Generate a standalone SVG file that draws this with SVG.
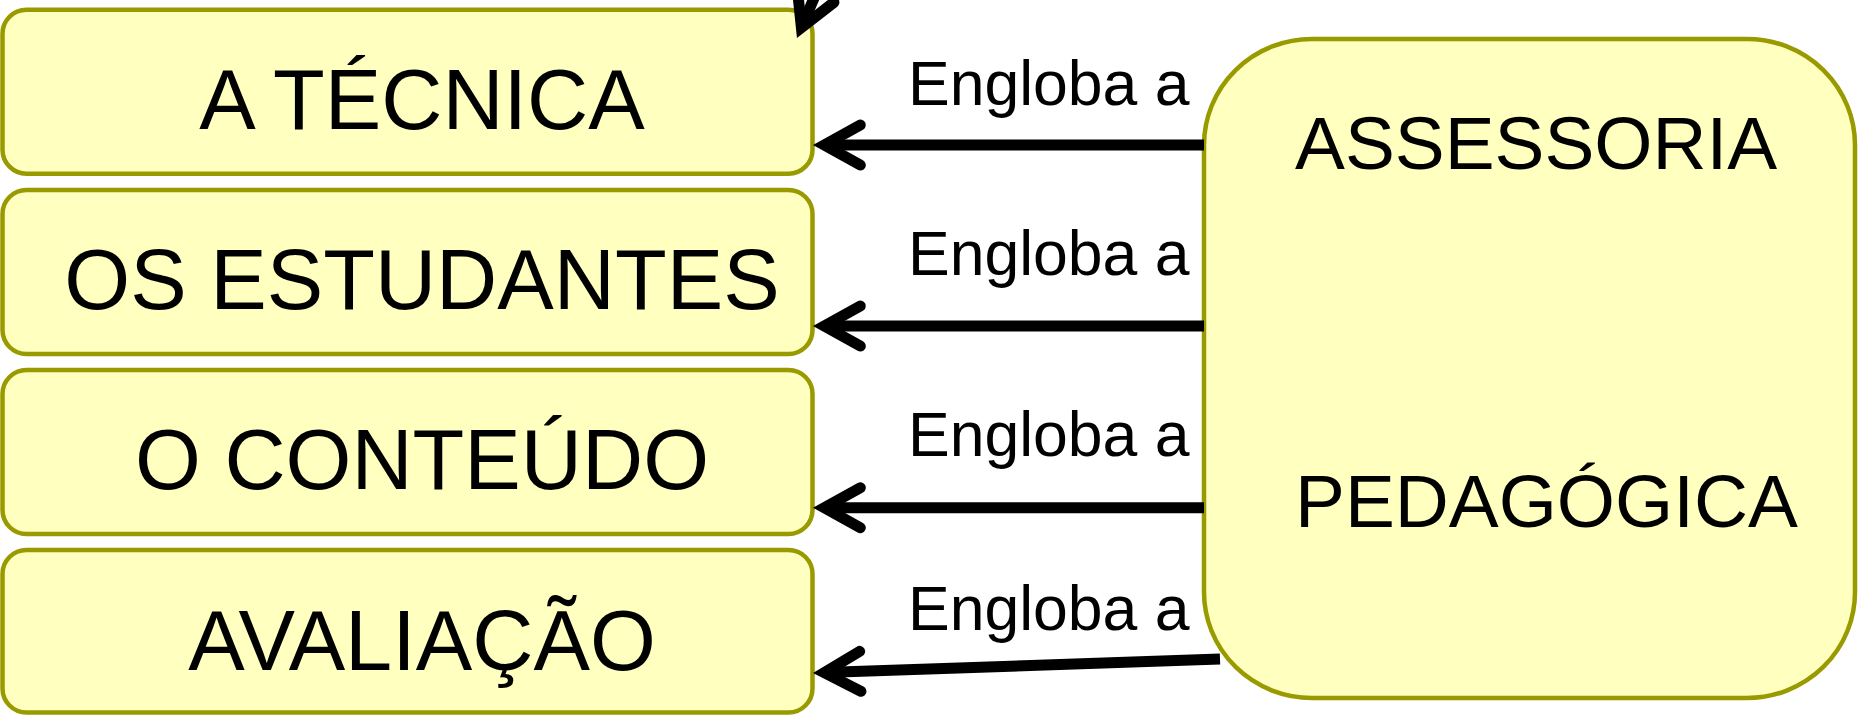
<svg xmlns="http://www.w3.org/2000/svg" width="1865" height="715" viewBox="0 0 1865 715">
  <style>
    .box { fill: #FFFFC0; stroke: #999900; stroke-width: 4.5; }
    .big { fill: #FFFFC0; stroke: #999900; stroke-width: 4.5; }
    .t { font-family: "Liberation Sans", Arial, sans-serif; font-size: 84.7px; fill: #000; text-anchor: middle; }
    .bt { font-family: "Liberation Sans", Arial, sans-serif; font-size: 74.8px; fill: #000; }
    .lbl { font-family: "Liberation Sans", Arial, sans-serif; font-size: 62.5px; fill: #000; }
    .edge { fill: none; stroke: #000; stroke-width: 11; stroke-linecap: butt; marker-end: url(#arr); }
  </style>
  <defs>
    <marker id="arr" markerUnits="userSpaceOnUse" markerWidth="80" markerHeight="80" refX="0" refY="0" orient="auto" overflow="visible" viewBox="-50 -40 80 80">
      <path d="M -36,-20 L 0,0 L -36,20" fill="none" stroke="#000" stroke-width="11" stroke-linejoin="miter" stroke-linecap="round" stroke-miterlimit="6"/>
    </marker>
  </defs>
  <rect width="1865" height="715" fill="#FFFFFF"/>

  <g id="node-tecnica">
    <rect class="box" x="2.5" y="9.7" width="810" height="164" rx="24" ry="24"/>
    <text class="t" x="422" y="129">A TÉCNICA</text>
  </g>
  <g id="node-estudantes">
    <rect class="box" x="2.5" y="190" width="810" height="164" rx="24" ry="24"/>
    <text class="t" x="422" y="309">OS ESTUDANTES</text>
  </g>
  <g id="node-conteudo">
    <rect class="box" x="2.5" y="370" width="810" height="164" rx="24" ry="24"/>
    <text class="t" x="422" y="489">O CONTEÚDO</text>
  </g>
  <g id="node-avaliacao">
    <rect class="box" x="2.5" y="550" width="810" height="162.5" rx="24" ry="24"/>
    <text class="t" x="422" y="669.5">AVALIAÇÃO</text>
  </g>
  <g id="node-assessoria">
    <rect class="big" x="1204" y="39" width="651" height="659" rx="108" ry="106"/>
    <text class="bt" x="1295" y="169">ASSESSORIA</text>
    <text class="bt" x="1295" y="527">PEDAGÓGICA</text>
  </g>

  <g id="connectors">
    <line class="edge" x1="820" y1="-16" x2="801.4" y2="27.6"/>
    <line class="edge" x1="1204" y1="145" x2="824.3" y2="145"/>
    <line class="edge" x1="1204" y1="326" x2="824.3" y2="326"/>
    <line class="edge" x1="1204" y1="507.7" x2="824.3" y2="507.7"/>
    <line class="edge" x1="1220" y1="659" x2="824.3" y2="672.6"/>
    <text class="lbl" x="908" y="104.5">Engloba a</text>
    <text class="lbl" x="908" y="275">Engloba a</text>
    <text class="lbl" x="908" y="456">Engloba a</text>
    <text class="lbl" x="908" y="629.5">Engloba a</text>
  </g>
</svg>
